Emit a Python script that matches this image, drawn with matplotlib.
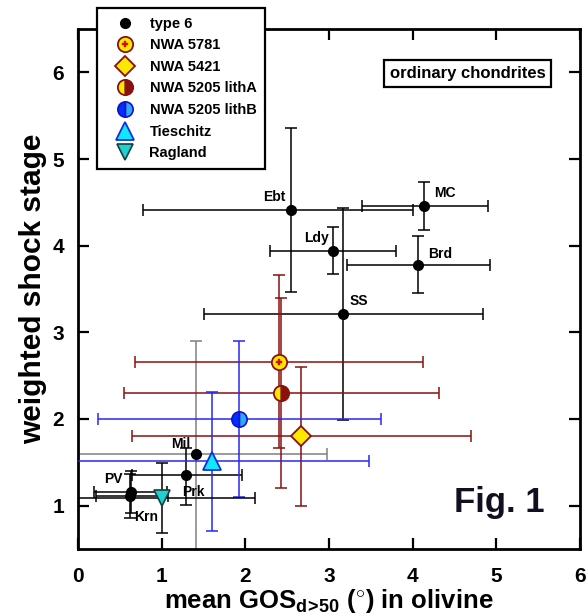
import numpy as np
import matplotlib
matplotlib.use('Agg')
import matplotlib.pyplot as plt
from matplotlib.lines import Line2D
from matplotlib.legend_handler import HandlerTuple

plt.rcParams['font.family'] = ['Liberation Sans', 'DejaVu Sans']
plt.rcParams['font.weight'] = 'bold'
plt.rcParams['mathtext.fontset'] = 'custom'
plt.rcParams['mathtext.rm'] = 'Liberation Sans:bold'
plt.rcParams['mathtext.bf'] = 'Liberation Sans:bold'
plt.rcParams['mathtext.default'] = 'bf'

# type 6 chondrites
t6_names = ['Ebt', 'MC', 'Ldy', 'Brd', 'SS', 'Mil', 'Prk', 'PV', 'Krn']
t6_x = [2.55, 4.14, 3.05, 4.06, 3.17, 1.41, 1.29, 0.63, 0.62]
t6_y = [4.41, 4.46, 3.94, 3.78, 3.21, 1.60, 1.35, 1.16, 1.11]
t6_xlo = [1.77, 0.75, 0.75, 0.85, 1.66, 1.57, 0.65, 0.44, 0.40]
t6_xhi = [1.45, 0.76, 0.75, 0.86, 1.67, 1.57, 0.67, 0.43, 0.46]
t6_ylo = [0.95, 0.28, 0.27, 0.33, 1.22, 1.30, 0.34, 0.24, 0.25]
t6_yhi = [0.95, 0.28, 0.27, 0.33, 1.22, 1.30, 0.32, 0.24, 0.25]
# label offsets in pixels (dx, dy) and alignment
t6_off = [(-6, 6, 'right'), (10, 6, 'left'), (-4, 6, 'right'), (10, 4, 'left'),
          (6, 6, 'left'), (-6, 3, 'right'), (-4, -24, 'left'), (-8, 6, 'right'),
          (4, -28, 'left')]

# individual meteorites: x, y, xerr, yerr
s_names = ['NWA 5781', 'NWA 5421', 'NWA 5205 lithA', 'NWA 5205 lithB', 'Tieschitz', 'Ragland']
s_x = [2.40, 2.67, 2.43, 1.93, 1.60, 1.00]
s_y = [2.66, 1.80, 2.30, 2.00, 1.51, 1.09]
s_xerr = [1.72, 2.03, 1.88, 1.69, 1.88, 1.12]
s_yerr = [1.00, 0.80, 1.10, 0.90, 0.80, 0.40]

dred = '#8B1010'
blue = '#2828F0'
yel = '#FFE800'

fig = plt.figure(figsize=(5.86, 6.16), dpi=100)
ax = fig.add_axes([78/586, 1-549/616, 502/586, 520/616])

for i in range(len(t6_x)):
    col = '#808080' if t6_names[i] == 'Mil' else 'black'
    ax.errorbar(t6_x[i], t6_y[i], xerr=[[t6_xlo[i]], [t6_xhi[i]]],
                yerr=[[t6_ylo[i]], [t6_yhi[i]]], fmt='none', ecolor=col,
                elinewidth=1.1, capsize=4, capthick=1.1, zorder=2)
ax.plot(t6_x, t6_y, 'o', color='black', ms=7, zorder=5)
for i, n in enumerate(t6_names):
    dx, dy, ha = t6_off[i]
    ax.annotate(n, (t6_x[i], t6_y[i]), xytext=(dx*0.72, dy*0.72),
                textcoords='offset points', ha=ha, va='bottom',
                fontsize=10, fontweight='bold', zorder=6)

ecols = [dred, dred, dred, blue, blue, 'black']
for i in range(len(s_x)):
    ax.errorbar(s_x[i], s_y[i], xerr=s_xerr[i], yerr=s_yerr[i], fmt='none',
                ecolor=ecols[i], elinewidth=1.1, capsize=4, capthick=1.1, zorder=3)

# markers
ax.plot(s_x[0], s_y[0], 'o', ms=11, mfc=yel, mec=dred, mew=1.3, zorder=7)
ax.plot(s_x[0], s_y[0], 'P', ms=5, mfc='#D01010', mec='#D01010', mew=0.3, zorder=8)
ax.plot(s_x[1], s_y[1], 'D', ms=10, mfc=yel, mec=dred, mew=1.3, zorder=7)
ax.plot(s_x[2], s_y[2], 'o', ms=11, fillstyle='left', mfc=yel, mfcalt=dred,
        mec=dred, mew=1.3, zorder=7)
ax.plot(s_x[3], s_y[3], 'o', ms=11, fillstyle='left', mfc='#0030FF', mfcalt='#30A8FF',
        mec='#1010D0', mew=1.2, zorder=7)
ax.plot(s_x[4], s_y[4], '^', ms=13, mfc='#10E8FF', mec='#1030E0', mew=1.3, zorder=7)
ax.plot(s_x[5], s_y[5], 'v', ms=11, mfc='#20D0D0', mec='#104040', mew=1.2, zorder=7)

ax.set_xlim(0, 6)
ax.set_ylim(0.5, 6.5)
ax.set_xticks(range(0, 7))
ax.set_yticks(range(1, 7))
ax.tick_params(direction='in', length=8, width=1.6, top=True, right=True,
               labelsize=15)
ax.tick_params(axis='x', pad=13)
ax.tick_params(axis='y', pad=10)
for lab in ax.get_xticklabels() + ax.get_yticklabels():
    lab.set_fontweight('bold')
for sp in ax.spines.values():
    sp.set_linewidth(2)

ax.set_xlabel(r'mean GOS$_{d\!>\!50}$ ($^{\circ}$) in olivine', fontsize=18.5,
              fontweight='bold', labelpad=1)
ax.set_ylabel('weighted shock stage', fontsize=21.5, fontweight='bold', labelpad=4)

ax.text(0.931, 0.915, 'ordinary chondrites', transform=ax.transAxes, ha='right',
        va='center', fontsize=12, fontweight='bold',
        bbox=dict(boxstyle='square,pad=0.35', fc='white', ec='black', lw=1.6))
ax.text(0.93, 0.09, 'Fig. 1', transform=ax.transAxes, ha='right', va='center',
        fontsize=25, fontweight='bold', color='#101020')

handles = [
    Line2D([], [], ls='', marker='o', ms=7, color='black'),
    (Line2D([], [], ls='', marker='o', ms=11, mfc=yel, mec=dred, mew=1.3),
     Line2D([], [], ls='', marker='P', ms=5, mfc='#D01010', mec='#D01010', mew=0.3)),
    Line2D([], [], ls='', marker='D', ms=10, mfc=yel, mec=dred, mew=1.3),
    Line2D([], [], ls='', marker='o', ms=11, fillstyle='left', mfc=yel,
           mfcalt=dred, mec=dred, mew=1.3),
    Line2D([], [], ls='', marker='o', ms=11, fillstyle='left', mfc='#0030FF',
           mfcalt='#30A8FF', mec='#1010D0', mew=1.2),
    Line2D([], [], ls='', marker='^', ms=13, mfc='#10E8FF', mec='#1030E0', mew=1.3),
    Line2D([], [], ls='', marker='v', ms=11, mfc='#20D0D0', mec='#104040', mew=1.2),
]
labels = ['type 6'] + s_names
leg = fig.legend(handles, labels, loc='upper left', bbox_to_anchor=(97/586, 1-8/616),
                 borderaxespad=0, fancybox=False, framealpha=1, edgecolor='black',
                 prop={'weight': 'bold', 'size': 10.5}, labelspacing=0.52,
                 handletextpad=0.4, borderpad=0.6, handlelength=2.6,
                 handler_map={tuple: HandlerTuple(ndivide=1)})
leg.get_frame().set_linewidth(1.6)

fig.savefig('out.png', dpi=100)
